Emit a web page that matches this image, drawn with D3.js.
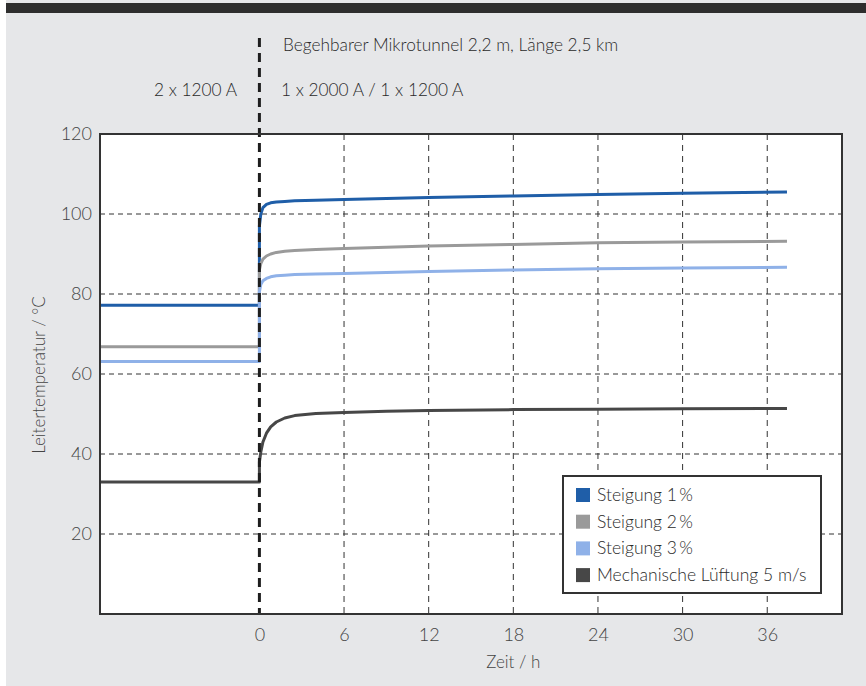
<!DOCTYPE html>
<html><head><meta charset="utf-8">
<script src="https://cdn.jsdelivr.net/npm/d3@7"></script>
<style>
html,body{margin:0;padding:0;background:#fff;}
svg{display:block;font-family:Lato,"Open Sans",sans-serif;}
</style></head>
<body><svg id="c" width="866" height="686"></svg>
<script>
const xTicks = [0, 6, 12, 18, 24, 30, 36];
const yTicks = [20, 40, 60, 80, 100, 120];
const seriesNames = ["Steigung 1\u2009%", "Steigung 2\u2009%", "Steigung 3\u2009%", "Mechanische Lüftung 5 m/s"];
const seriesColors = ["#1f5ea8", "#9a9a9a", "#8fb1e8", "#474747"];
const timeH = [-11.3, 0, 0, 0.1, 0.25, 0.5, 0.8, 1.2, 1.8, 2.5, 4, 6, 9, 12, 18, 24, 30, 37.4];
const steigung1 = [77.2, 77.2, 97, 100, 101.6, 102.4, 102.8, 103.0, 103.15, 103.3, 103.45, 103.6, 103.85, 104.1, 104.5, 104.9, 105.2, 105.5];
const steigung2 = [66.8, 66.8, 86, 87.6, 88.7, 89.5, 90.0, 90.4, 90.7, 90.9, 91.15, 91.4, 91.7, 92.0, 92.4, 92.8, 93.0, 93.2];
const steigung3 = [63.1, 63.1, 80.5, 82.4, 83.3, 83.9, 84.3, 84.55, 84.7, 84.85, 85.0, 85.1, 85.35, 85.6, 86.0, 86.3, 86.5, 86.7];
const lueftung = [33, 33, 38, 40.5, 43.0, 45.2, 46.8, 48.0, 49.0, 49.6, 50.1, 50.4, 50.7, 50.9, 51.1, 51.2, 51.3, 51.4];
const allSeries = [steigung1, steigung2, steigung3, lueftung];
const topLabel = "Begehbarer Mikrotunnel 2,2 m, Länge 2,5 km";
const leftLabel = "2 x 1200 A";
const rightLabel = "1 x 2000 A / 1 x 1200 A";

const svg = d3.select("#c");
svg.append("rect").attr("x",6).attr("y",0).attr("width",860).attr("height",686).attr("fill","#e6e7e9");
svg.append("rect").attr("x",6).attr("y",3).attr("width",860).attr("height",10).attr("fill","#2e2e2e");

const L=100, R=842, T=134, B=614;
const x = d3.scaleLinear().domain([-11.3, 41.3]).range([L, R]);
const y = d3.scaleLinear().domain([0, 120]).range([B, T]);

svg.append("rect").attr("x",L).attr("y",T).attr("width",R-L).attr("height",B-T).attr("fill","#fff");

const g = svg.append("g");
g.selectAll(".hg").data(yTicks.filter(d=>d<120)).join("line")
  .attr("x1",L).attr("x2",R).attr("y1",d=>y(d)).attr("y2",d=>y(d))
  .attr("stroke","#333").attr("stroke-width",1).attr("stroke-dasharray","5,4");
g.selectAll(".vg").data(xTicks.filter(d=>d>0)).join("line")
  .attr("x1",d=>x(d)).attr("x2",d=>x(d)).attr("y1",T).attr("y2",B)
  .attr("stroke","#333").attr("stroke-width",1).attr("stroke-dasharray","6,5");

const line = d3.line().x((d,i)=>x(timeH[i])).y(d=>y(d)).curve(d3.curveLinear);
allSeries.forEach((s,k)=>{
  g.append("path").attr("d",line(s)).attr("fill","none")
   .attr("stroke",seriesColors[k]).attr("stroke-width",3).attr("stroke-linejoin","round");
});

svg.append("line").attr("x1",x(0)).attr("x2",x(0)).attr("y1",38).attr("y2",B)
  .attr("stroke","#1e1e1e").attr("stroke-width",3).attr("stroke-dasharray","9,6");

svg.append("rect").attr("x",L).attr("y",T).attr("width",R-L).attr("height",B-T)
  .attr("fill","none").attr("stroke","#333").attr("stroke-width",2);

const xAxis = d3.axisBottom(x).tickValues(xTicks).tickSize(0).tickPadding(14);
const xa = svg.append("g").attr("transform",`translate(0,${B})`).call(xAxis);
xa.select(".domain").remove();
xa.selectAll("text").attr("font-size",18).attr("font-weight",300).attr("fill","#444").attr("font-family","Lato,sans-serif");

const yAxis = d3.axisLeft(y).tickValues(yTicks).tickSize(0).tickPadding(8);
const ya = svg.append("g").attr("transform",`translate(${L},0)`).call(yAxis);
ya.select(".domain").remove();
ya.selectAll("text").attr("font-size",18).attr("font-weight",300).attr("fill","#444").attr("font-family","Lato,sans-serif");

svg.append("text").attr("x",x(18)).attr("y",668).attr("text-anchor","middle")
  .attr("font-size",17).attr("font-weight",300).attr("fill","#444").text("Zeit / h");
svg.append("text").attr("transform","translate(45,375) rotate(-90)").attr("text-anchor","middle")
  .attr("font-size",17).attr("font-weight",300).attr("fill","#444").text("Leitertemperatur / °C");

svg.append("text").attr("x",283).attr("y",51).attr("font-size",17.3).attr("font-weight",300).attr("fill","#2a2a2a").text(topLabel);
svg.append("text").attr("x",237).attr("y",96).attr("text-anchor","end").attr("font-size",17.3).attr("font-weight",300).attr("fill","#2a2a2a").text(leftLabel);
svg.append("text").attr("x",281).attr("y",96).attr("font-size",17.3).attr("font-weight",300).attr("fill","#2a2a2a").text(rightLabel);

const lg = svg.append("g");
lg.append("rect").attr("x",563).attr("y",476).attr("width",258).attr("height",117)
  .attr("fill","#fff").attr("stroke","#333").attr("stroke-width",2);
seriesNames.forEach((n,i)=>{
  const cy = 495 + i*26.7;
  lg.append("rect").attr("x",576).attr("y",cy-7).attr("width",14).attr("height",14).attr("fill",seriesColors[i]);
  lg.append("text").attr("x",597).attr("y",cy+6).attr("font-size",17.5).attr("font-weight",300).attr("fill","#2a2a2a").text(n);
});
</script></body></html>
